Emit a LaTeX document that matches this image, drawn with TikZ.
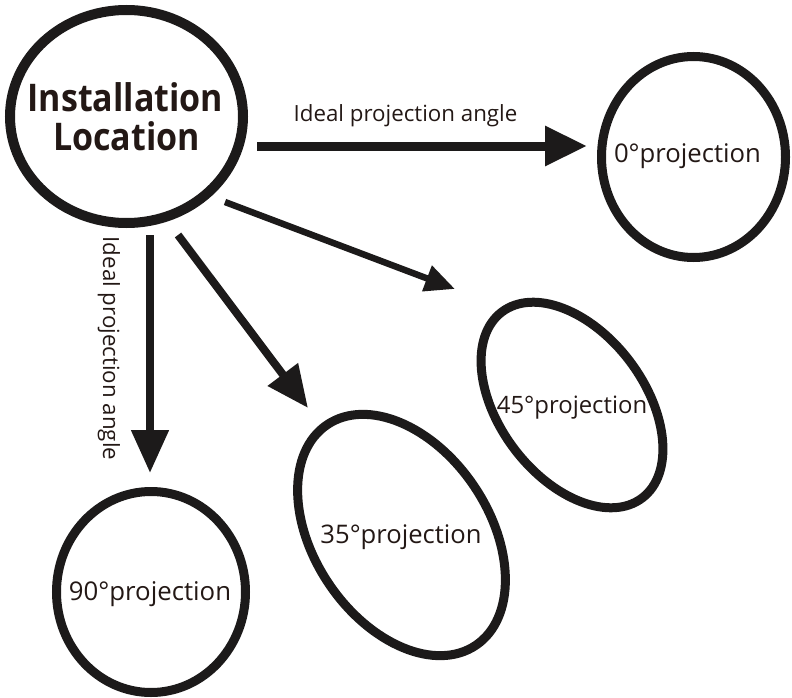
\documentclass[tikz,border=0pt]{standalone}
\usepackage{fontspec}
\setmainfont{Open Sans}
\usetikzlibrary{shapes.geometric,arrows.meta}
\definecolor{ink}{HTML}{231815}
\definecolor{linec}{HTML}{1C1A1A}
\tikzset{
  ring/.style={draw=linec, ellipse, inner sep=0pt, line width=#1},
  ring/.default=9pt,
  lbl/.style={text=ink, inner sep=0pt, anchor=base},
  arr/.style={draw=linec, line width=#1},
}
\begin{document}
\begin{tikzpicture}[x=1pt,y=-1pt]
\useasboundingbox (0,0) rectangle (792,698);
% shapes
\node[ring=10pt, minimum width=233pt, minimum height=213pt] (main) at (126.5,116.5) {};
\node[ring, minimum width=184pt, minimum height=201pt] (p0) at (693.5,157) {};
\node[ring, minimum width=189pt, minimum height=201pt] (p90) at (151,592) {};
\node[ring, minimum width=145pt, minimum height=233pt, rotate=37] (p45) at (572,405) {};
\node[ring, minimum width=175pt, minimum height=266pt, rotate=34] (p35) at (401.5,535) {};
% texts
\node[lbl, font=\fontsize{34}{34}\bfseries\selectfont] (t1) at (125.5,112) {\scalebox{1}[1.12]{Installation}};
\node[lbl, font=\fontsize{34}{34}\bfseries\selectfont] (t2) at (126.5,150) {\scalebox{1}[1.12]{Location}};
\node[lbl, font=\fontsize{25.7}{26}\selectfont] (l0) at (687.5,162) {0°projection};
\node[lbl, font=\fontsize{23.9}{24}\selectfont] (l45) at (572,413) {45°projection};
\node[lbl, font=\fontsize{25.6}{26}\selectfont] (l35) at (401,543) {35°projection};
\node[lbl, font=\fontsize{25.8}{26}\selectfont] (l90) at (150,600) {90°projection};
\node[text=ink, inner sep=0pt, font=\fontsize{22.3}{22}\selectfont] (a0) at (405.5,116) {Ideal projection angle};
\node[text=ink, inner sep=0pt, rotate=-90, font=\fontsize{22.3}{22}\selectfont] (a90) at (109,348.5) {Ideal projection angle};
% connector end points
\coordinate (s0) at (257,146);
\coordinate (e0) at (587,146);
\coordinate (s90) at (150,235);
\coordinate (e90) at (150,473);
\coordinate (s35) at (178,235);
\coordinate (e35) at (308,408);
\coordinate (s45) at (225,202);
\coordinate (e45) at (455,289);
% arrows
\draw[arr=9pt, -{Triangle[length=42pt,width=38pt]}] (s0) -- (e0);
\draw[arr=8pt, -{Triangle[length=43pt,width=36pt]}] (s90) -- (e90);
\draw[arr=8pt, -{Triangle[length=42pt,width=36pt]}] (s35) -- (e35);
\draw[arr=6.5pt, -{Triangle[length=30pt,width=26pt]}] (s45) -- (e45);
\end{tikzpicture}
\end{document}
